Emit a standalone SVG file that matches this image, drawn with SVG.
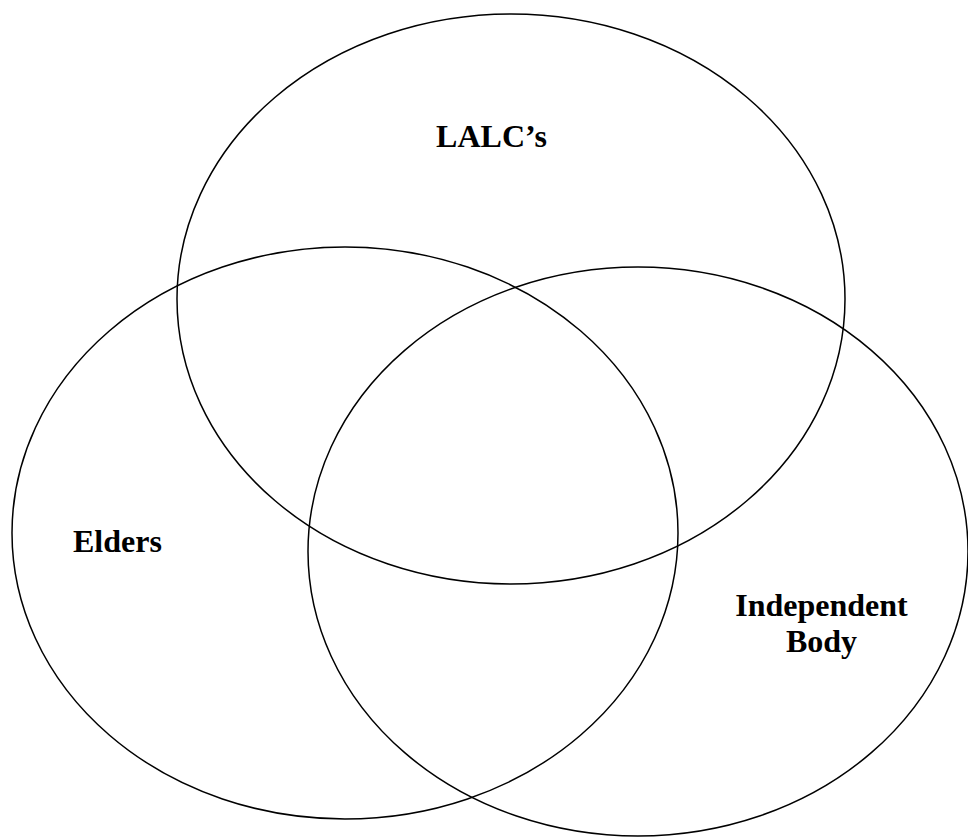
<svg xmlns="http://www.w3.org/2000/svg" width="968" height="837" viewBox="0 0 968 837">
<style>
.c{fill:none;stroke:#000;stroke-width:1.5}
.t{font-family:"Liberation Serif","Times New Roman",serif;font-weight:bold;font-size:32px;fill:#000}
</style>
<rect width="968" height="837" fill="#fff"/>
<g id="connectors"></g>
<g id="lalc">
<ellipse class="c" cx="511" cy="299" rx="334" ry="285"/>
<text class="t" x="491.5" y="147" text-anchor="middle">LALC’s</text>
</g>
<g id="elders">
<ellipse class="c" cx="345" cy="533" rx="333" ry="286"/>
<text class="t" x="73" y="552">Elders</text>
</g>
<g id="independent">
<ellipse class="c" cx="638" cy="551.5" rx="330" ry="284.5"/>
<text class="t" x="821.5" y="616" text-anchor="middle">Independent</text>
<text class="t" x="821.5" y="652" text-anchor="middle">Body</text>
</g>
</svg>
